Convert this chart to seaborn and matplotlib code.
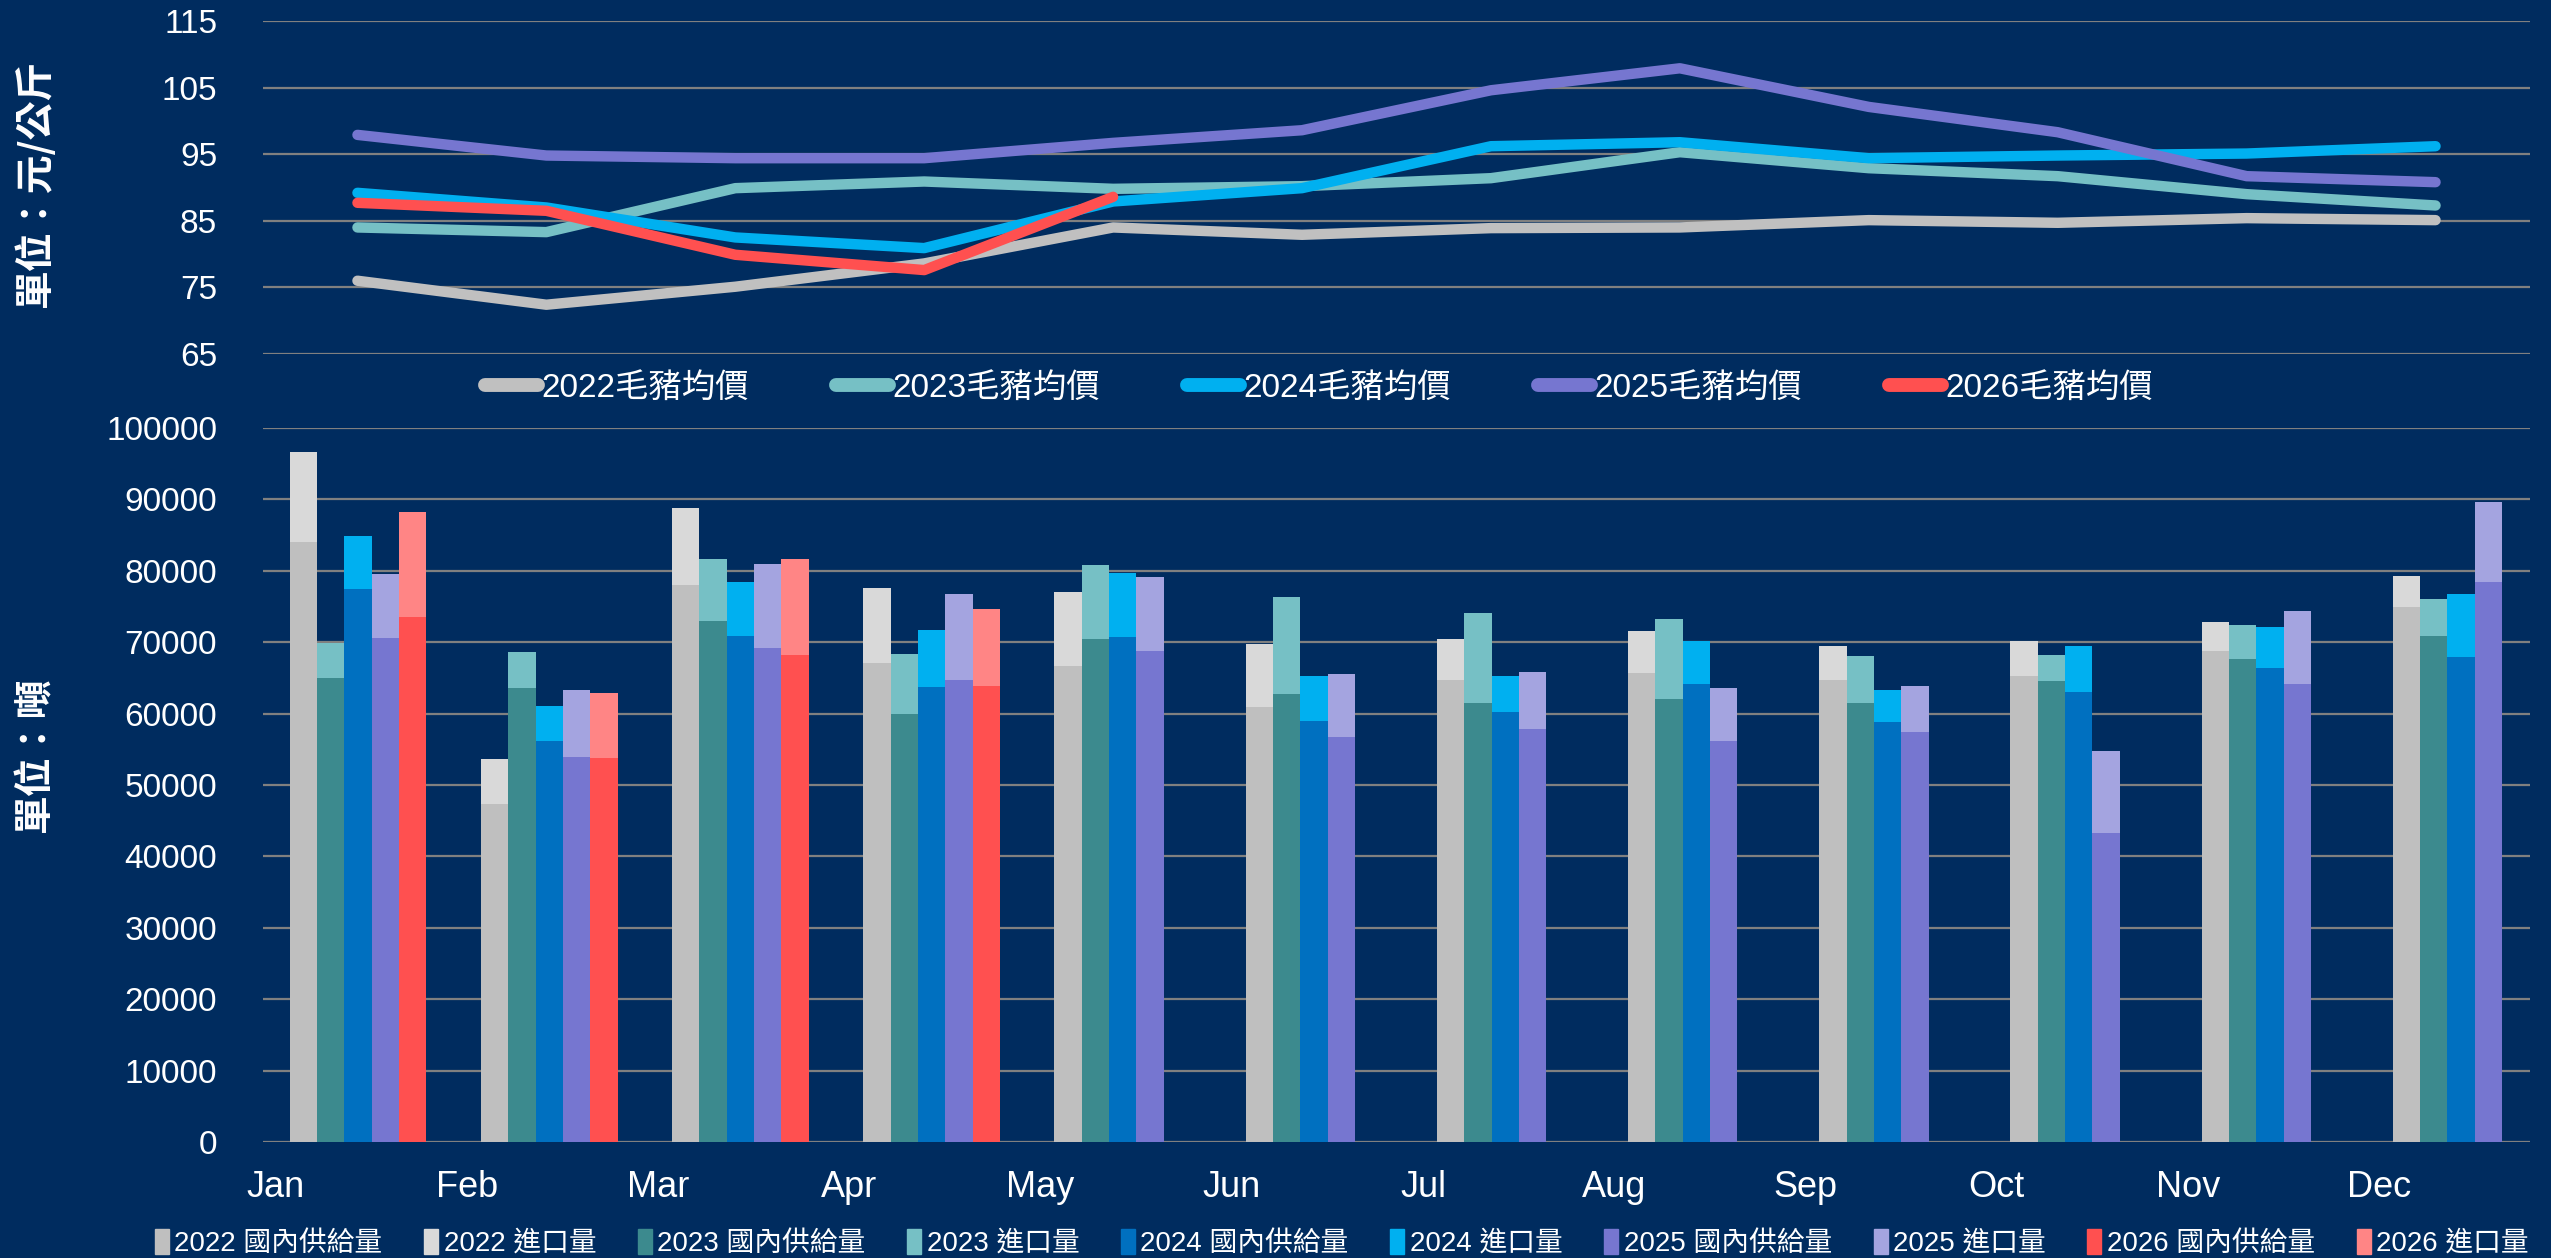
import matplotlib
matplotlib.use("Agg")
import matplotlib.pyplot as plt
import seaborn as sns
import pandas as pd
from matplotlib.lines import Line2D
from matplotlib.patches import Patch

# ---- data ----
months = ["Jan", "Feb", "Mar", "Apr", "May", "Jun",
          "Jul", "Aug", "Sep", "Oct", "Nov", "Dec"]
years = ["2022", "2023", "2024", "2025", "2026"]

# hog average price (元/公斤)
price_2022 = [76.0, 72.4, 75.1, 78.6, 84.0, 82.9, 83.9, 84.0, 85.1, 84.7, 85.4, 85.1]
price_2023 = [84.0, 83.3, 89.9, 90.9, 89.8, 90.2, 91.4, 95.3, 92.9, 91.7, 89.0, 87.3]
price_2024 = [89.2, 87.0, 82.5, 80.9, 87.9, 89.9, 96.2, 96.8, 94.4, 94.8, 95.1, 96.2]
price_2025 = [97.9, 94.8, 94.4, 94.4, 96.7, 98.6, 104.6, 107.9, 102.1, 98.3, 91.7, 90.8]
price_2026 = [87.7, 86.5, 79.9, 77.6, 88.6]

# domestic supply (噸)
domestic_2022 = [84100, 47400, 78000, 67100, 66600, 60900, 64700, 65700, 64700, 65300, 68700, 74900]
domestic_2023 = [65000, 63600, 73000, 60000, 70500, 62800, 61500, 62100, 61500, 64500, 67700, 70800]
domestic_2024 = [77400, 56200, 70900, 63700, 70700, 59000, 60200, 64100, 58800, 63000, 66400, 67900]
domestic_2025 = [70600, 53900, 69200, 64700, 68800, 56700, 57900, 56200, 57400, 43300, 64100, 78500]
domestic_2026 = [73500, 53800, 68200, 63900]

# imports (噸)
import_2022 = [12600, 6200, 10800, 10550, 10400, 8800, 5800, 5900, 4800, 4900, 4100, 4400]
import_2023 = [4900, 5000, 8700, 8400, 10300, 13500, 12600, 11200, 6500, 3700, 4700, 5200]
import_2024 = [7500, 4900, 7500, 8000, 9000, 6200, 5000, 6000, 4500, 6500, 5700, 8800]
import_2025 = [9000, 9400, 11800, 12000, 10300, 8800, 7900, 7400, 6500, 11400, 10300, 11200]
import_2026 = [14700, 9100, 13500, 10700]

bg = "#002C5F"
line_colors = ["#C0C0C0", "#76C0C5", "#00B0F0", "#7676D0", "#FF5050"]
dom_colors = ["#BFBFBF", "#3C8A8E", "#0070C0", "#7676D0", "#FF5050"]
imp_colors = ["#D9D9D9", "#76C0C5", "#00B0F0", "#A4A4E0", "#FF8585"]

prices = [price_2022, price_2023, price_2024, price_2025, price_2026]
domestic = [domestic_2022, domestic_2023, domestic_2024, domestic_2025, domestic_2026]
imports = [import_2022, import_2023, import_2024, import_2025, import_2026]

rows = []
for y, p in zip(years, prices):
    for i, v in enumerate(p):
        rows.append({"idx": i, "year": y, "price": v})
price_df = pd.DataFrame(rows)

rows = []
for y, d, m in zip(years, domestic, imports):
    for i in range(len(d)):
        rows.append({"month": months[i], "year": y, "domestic": d[i], "total": d[i] + m[i]})
bar_df = pd.DataFrame(rows)

sns.set_theme(style="dark")
plt.rcParams["font.family"] = ["Liberation Sans", "Noto Sans CJK TC", "DejaVu Sans"]
plt.rcParams["axes.unicode_minus"] = False

fig = plt.figure(figsize=(25.51, 12.58), dpi=100)
fig.patch.set_facecolor(bg)

grid_kw = dict(color="#808080", linewidth=1.6)

# ---- top: price lines ----
ax1 = fig.add_axes([263 / 2551, 1 - 354 / 1258, 2267 / 2551, 333 / 1258])
ax1.set_facecolor(bg)
sns.lineplot(data=price_df, x="idx", y="price", hue="year", hue_order=years,
             palette=line_colors, linewidth=7.5, legend=False, ax=ax1,
             solid_capstyle="round", solid_joinstyle="round")
ax1.set_xlim(-0.5, 11.5)
ax1.set_ylim(65, 115)
ax1.set_yticks(range(65, 116, 10))
ax1.set_xticks([])
ax1.set_xlabel("")
ax1.set_ylabel("")
for s in ax1.spines.values():
    s.set_visible(False)
ax1.yaxis.grid(True, **grid_kw)
ax1.xaxis.grid(False)
ax1.set_axisbelow(True)
ax1.tick_params(axis="y", length=0, pad=33, labelsize=24, labelcolor="white")

line_handles = [Line2D([0], [0], color=c, lw=10, solid_capstyle="round") for c in line_colors]
fig.legend(line_handles, [f"{y}毛豬均價" for y in years], loc="center",
           bbox_to_anchor=(0.517, 1 - 388 / 1258), ncol=5, frameon=False,
           fontsize=24, labelcolor="white", handlelength=1.6, handletextpad=0.1,
           columnspacing=2.6, borderpad=0)

# ---- bottom: supply bars (import stacked on top of domestic) ----
ax2 = fig.add_axes([263 / 2551, 1 - 1142 / 1258, 2267 / 2551, 714 / 1258])
ax2.set_facecolor(bg)
sns.barplot(data=bar_df, x="month", y="total", hue="year", order=months, hue_order=years,
            palette=imp_colors, width=0.715, errorbar=None, linewidth=0, saturation=1,
            legend=False, ax=ax2)
sns.barplot(data=bar_df, x="month", y="domestic", hue="year", order=months, hue_order=years,
            palette=dom_colors, width=0.715, errorbar=None, linewidth=0, saturation=1,
            legend=False, ax=ax2)
ax2.set_xlim(-0.497, 11.36)
ax2.set_ylim(0, 100000)
ax2.set_yticks(range(0, 100001, 10000))
ax2.set_xticks([i - 0.43 for i in range(12)])
ax2.set_xticklabels(months)
ax2.set_xlabel("")
ax2.set_ylabel("")
for s in ax2.spines.values():
    s.set_visible(False)
ax2.yaxis.grid(True, **grid_kw)
ax2.xaxis.grid(False)
ax2.set_axisbelow(True)
ax2.tick_params(axis="y", length=0, pad=33, labelsize=24, labelcolor="white")
ax2.tick_params(axis="x", length=0, pad=20, labelsize=26, labelcolor="white")

bar_handles = []
bar_labels = []
for y, dc, ic in zip(years, dom_colors, imp_colors):
    bar_handles += [Patch(color=dc), Patch(color=ic)]
    bar_labels += [f"{y} 國內供給量", f"{y} 進口量"]
fig.legend(bar_handles, bar_labels, loc="center", bbox_to_anchor=(0.526, 1 - 1243 / 1258),
           ncol=10, frameon=False, fontsize=20, labelcolor="white",
           handlelength=0.5, handleheight=1.0, handletextpad=0.2,
           columnspacing=1.5, borderpad=0)

# ---- axis titles ----
fig.text(35 / 2551, 1 - 183 / 1258, "單位：元/公斤", rotation=90, ha="center", va="center",
         color="white", fontsize=28, fontweight="bold", family=["Noto Sans CJK TC", "DejaVu Sans"])
fig.text(35 / 2551, 1 - 754 / 1258, "單位：噸", rotation=90, ha="center", va="center",
         color="white", fontsize=28, fontweight="bold", family=["Noto Sans CJK TC", "DejaVu Sans"])

fig.savefig("out.png", dpi=100, facecolor=bg)
